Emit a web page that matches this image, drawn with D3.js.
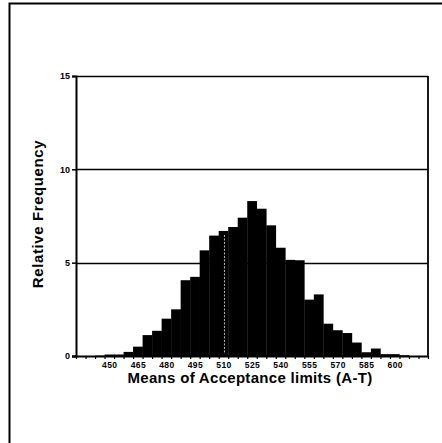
<!DOCTYPE html>
<html>
<head>
<meta charset="utf-8">
<script src="https://cdn.jsdelivr.net/npm/d3@7"></script>
<style>
  html, body { margin: 0; padding: 0; background: #fff; }
  svg { display: block; }
  text { font-family: "Liberation Sans", Arial, sans-serif; font-weight: bold; fill: #000; }
</style>
</head>
<body>
<svg id="chart" width="442" height="443"></svg>
<script>
// Bin centres (width 5) and relative frequencies (%)
const binCentres = [435, 440, 445, 450, 455, 460, 465, 470, 475, 480, 485, 490, 495,
  500, 505, 510, 515, 520, 525, 530, 535, 540, 545, 550, 555, 560, 565, 570, 575,
  580, 585, 590, 595, 600, 605, 610, 615];
const relFreq = [0, 0, 0.02, 0.08, 0.08, 0.22, 0.5, 1.12, 1.35, 2.0, 2.5, 4.06, 4.24,
  5.66, 6.45, 6.7, 6.91, 7.41, 8.3, 7.89, 7.0, 5.8, 5.15, 5.13, 3.02, 3.3, 1.73, 1.38, 1.23,
  0.72, 0.2, 0.4, 0.1, 0.1, 0.04, 0, 0];
const xTickLabels = [450, 465, 480, 495, 510, 525, 540, 555, 570, 585, 600];
const yTicks = [0, 5, 10, 15];
const referenceValue = 510;

const binWidth = 5;
const svg = d3.select("#chart");
const plot = { left: 76, right: 428, top: 76, bottom: 356 };

const x = d3.scaleLinear()
  .domain([binCentres[0] - binWidth / 2, binCentres[binCentres.length - 1] + binWidth / 2])
  .range([plot.left, plot.right]);
const y = d3.scaleLinear().domain([0, 15]).range([plot.bottom, plot.top]);

// outer page frame
svg.append("path")
  .attr("d", "M9.5,443 V3.5 H442")
  .attr("fill", "none").attr("stroke", "#000").attr("stroke-width", 2);

// horizontal grid lines (5 and 10) and top border at 15
svg.append("g").selectAll("line")
  .data(yTicks.filter(d => d > 0))
  .join("line")
  .attr("x1", plot.left).attr("x2", plot.right)
  .attr("y1", d => Math.round(y(d)) + 0.5).attr("y2", d => Math.round(y(d)) + 0.5)
  .attr("stroke", "#000").attr("stroke-width", 1.6);

// bars
svg.append("g").selectAll("rect")
  .data(binCentres.map((c, i) => ({ c, v: relFreq[i] })).filter(d => d.v > 0))
  .join("rect")
  .attr("x", d => x(d.c - binWidth / 2))
  .attr("width", d => x(d.c + binWidth / 2) - x(d.c - binWidth / 2) + 0.3)
  .attr("y", d => y(d.v))
  .attr("height", d => y(0) - y(d.v))
  .attr("fill", "#000");

// reference marker at 510, dotted light line inside the bar
const refIdx = binCentres.indexOf(referenceValue);
svg.append("line")
  .attr("x1", x(referenceValue) + 1).attr("x2", x(referenceValue) + 1)
  .attr("y1", y(relFreq[refIdx]) + 4).attr("y2", y(0) - 2)
  .attr("stroke", "#bbb").attr("stroke-width", 1)
  .attr("stroke-dasharray", "2,1.5");

// right border of plot area
svg.append("line")
  .attr("x1", plot.right).attr("x2", plot.right)
  .attr("y1", plot.top).attr("y2", plot.bottom)
  .attr("stroke", "#000").attr("stroke-width", 1.8);

// y axis
const yAxis = d3.axisLeft(y).tickValues(yTicks).tickSize(4).tickPadding(2).tickFormat(d3.format("d"));
const gy = svg.append("g").attr("transform", `translate(${plot.left},0)`).call(yAxis);
gy.select(".domain").attr("stroke-width", 2);
gy.selectAll(".tick line").attr("stroke-width", 1.5);
gy.selectAll("text").style("font-size", "9px").style("font-weight", "bold");

// x axis: a tick at every bin edge, labels every third bin
const edges = binCentres.map(c => c - binWidth / 2).concat([binCentres[binCentres.length - 1] + binWidth / 2]);
const gx = svg.append("g").attr("transform", `translate(0,${plot.bottom})`)
  .call(d3.axisBottom(x).tickValues(edges).tickSize(3).tickFormat(""));
gx.select(".domain").attr("stroke-width", 2).attr("d", `M${plot.left - 4},0.5H${plot.right}`);
gx.selectAll(".tick line").attr("stroke-width", 1.2);

const gl = svg.append("g").attr("transform", `translate(0,${plot.bottom})`)
  .call(d3.axisBottom(x).tickValues(xTickLabels).tickSize(0).tickPadding(6).tickFormat(d3.format("d")));
gl.select(".domain").remove();
gl.selectAll(".tick text")
  .style("font-size", "8.5px").style("font-weight", "bold").style("letter-spacing", "0.4px");

// axis titles
svg.append("text")
  .attr("x", 250).attr("y", 383)
  .attr("text-anchor", "middle")
  .style("font-size", "15px")
  .style("letter-spacing", "0.3px")
  .text("Means of Acceptance limits (A-T)");

svg.append("text")
  .attr("transform", "translate(43,214) rotate(-90)")
  .attr("text-anchor", "middle")
  .style("font-size", "15px")
  .style("letter-spacing", "0.6px")
  .text("Relative Frequency");
</script>
</body>
</html>
